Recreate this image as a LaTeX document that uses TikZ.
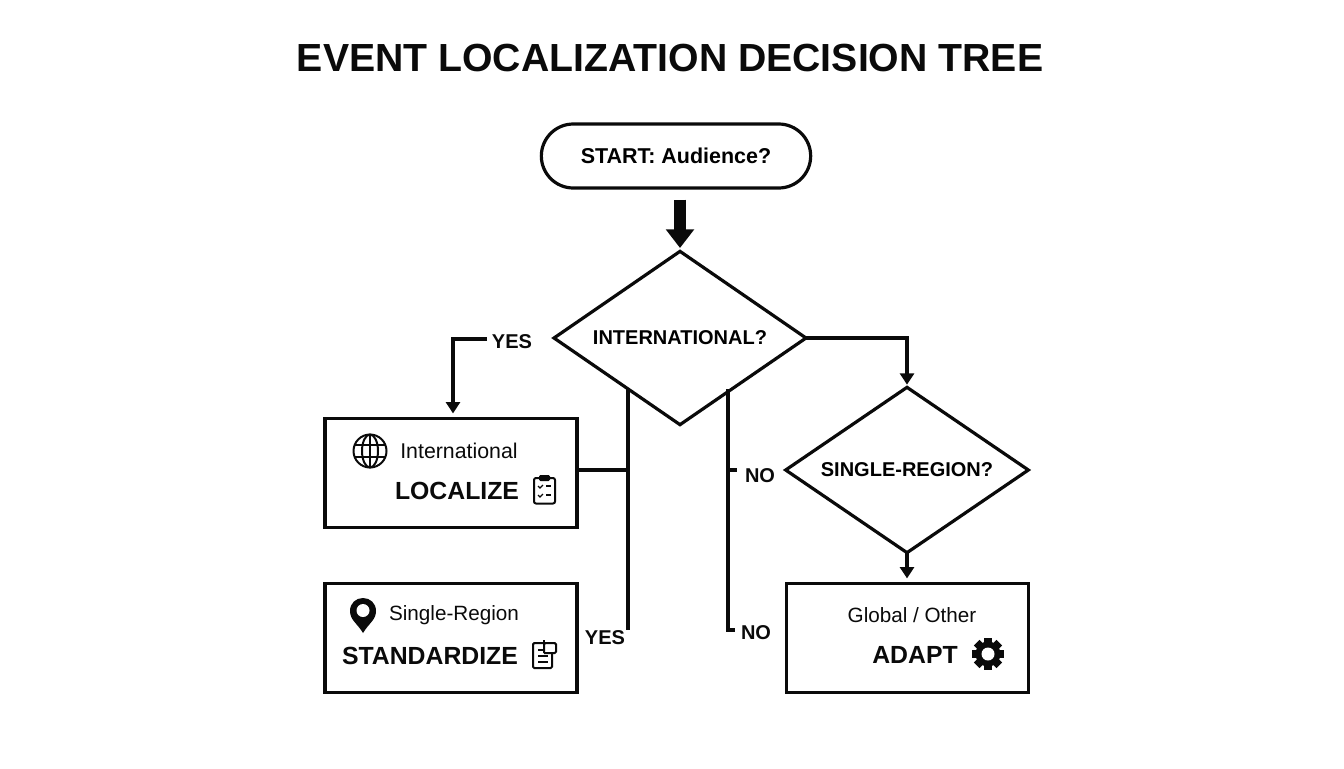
\documentclass[tikz,border=0pt]{standalone}
\usepackage{fontspec}
\setmainfont{Liberation Sans}
\usepackage{tikz}
\usetikzlibrary{shapes.geometric,arrows.meta}
\definecolor{ink}{HTML}{0A0A0A}
\tikzstyle{line} = [ink,line width=2.4pt]
\tikzstyle{arrow} = [line,-{Triangle[length=8.5pt,width=10.5pt]}]
\tikzstyle{bigarrow} = [ink,line width=9.5pt,-{Triangle[length=14pt,width=20.5pt,sep=0pt]}]
\tikzstyle{box} = [draw=ink,line width=2.4pt,rectangle,minimum width=189pt,minimum height=82pt,inner sep=0pt]
\tikzstyle{decision} = [draw=ink,line width=2.4pt,diamond,aspect=1.45,inner sep=0pt,outer sep=0pt,font=\fontsize{15}{18}\selectfont\bfseries]
\tikzstyle{small} = [ink,font=\fontsize{16}{19}\selectfont]
\tikzstyle{smaller} = [ink,font=\fontsize{15.5}{19}\selectfont]
\tikzstyle{big} = [ink,font=\fontsize{18.6}{22}\selectfont\bfseries]
\tikzstyle{answer} = [ink,font=\fontsize{15}{18}\selectfont\bfseries]
\tikzstyle{icon} = [ink,line width=1.5pt]

\begin{document}
\begin{tikzpicture}[x=0.75pt,y=-0.75pt]
        \useasboundingbox (0,0) rectangle (1344,768);
        \node[ink,font=\fontsize{29.4}{34}\selectfont\bfseries] at (670,58) (title) {EVENT LOCALIZATION DECISION TREE};

        \node[draw=ink,line width=2.4pt,rounded corners=24pt,minimum width=202pt,minimum height=48pt,inner sep=0pt,font=\fontsize{16.1}{20}\selectfont\bfseries] at (676,156) (start) {START: Audience?};
        \node[decision,minimum width=189pt,minimum height=130pt] at (680,338) (intl) {INTERNATIONAL?};
        \node[decision,minimum width=182pt,minimum height=124pt] at (907,470) (single) {SINGLE-REGION?};
        \node[box] at (451,473) (localize) {};
        \node[box] at (451,638) (standardize) {};
        \node[box,minimum width=182pt] at (907.5,638) (adapt) {};

        \node[small] at (459,451) (intltext) {International};
        \node[big] at (457,491) (localizetext) {LOCALIZE};
        \node[smaller] at (454,615) (singletext) {Single-Region};
        \node[big] at (430,656) (standardizetext) {STANDARDIZE};
        \node[smaller] at (912,615) (globaltext) {Global / Other};
        \node[big] at (915,655) (adapttext) {ADAPT};

        \node[answer] at (512,342) (yesa) {YES};
        \node[answer] at (605,638) (yesb) {YES};
        \node[answer] at (760,476) (noa) {NO};
        \node[answer] at (756,633) (nob) {NO};

        \coordinate (yesstart) at (487,339);
        \coordinate (yesend) at (628,630);
        \coordinate (tee) at (628,470);
        \coordinate (nocorner) at (728,630);
        \coordinate (nohook) at (735,630);
        \coordinate (notee) at (728,470);
        \coordinate (notick) at (737,470);

        \draw[bigarrow,shorten >=2.5pt] (start.south -| intl.north) ++(0,10) -- (intl.north);
        \draw[arrow,shorten >=2.5pt] (yesstart) -| (localize.north -| 453,339);
        \draw[arrow,shorten >=2pt] (intl.east) -| (single.north);
        \draw[arrow,shorten >=2.5pt] (single.south) -- (adapt.north -| single.south);
        \draw[line] (intl.225 -| yesend) -- (yesend);
        \draw[line] (tee) -- (tee -| localize.east);
        \draw[line,line join=miter] (intl.-45 -| nocorner) -- (nocorner) -- (nohook);
        \draw[line] (notee) -- (notick);

        \draw[icon] (370,451) circle[radius=16.5];
        \draw[icon] (370,451) ellipse[x radius=8,y radius=16.5];
        \draw[icon] (370,434.5) -- (370,467.5);
        \draw[icon] (354.5,445) -- (385.5,445);
        \draw[icon] (354.5,457) -- (385.5,457);

        \draw[icon,rounded corners=1.5pt] (534,478) rectangle (555,503.5);
        \fill[ink,rounded corners=1pt] (539,475) rectangle (550,481);
        \foreach \y in {486,495} {
            \draw[ink,line width=0.9pt] (538,\y) -- (540,\y+2) -- (543,\y-1);
            \draw[ink,line width=0.9pt] (546,\y) -- (551,\y);
        }

        \fill[ink] (363,633) .. controls (357,623) and (350,620) .. (350,611) .. controls (350,603) and (356,598) .. (363,598) .. controls (370,598) and (376,603) .. (376,611) .. controls (376,620) and (369,623) .. cycle;
        \fill[white] (363,610.5) circle[radius=6.5];

        \draw[icon,rounded corners=1pt] (544,643) -- (533,643) -- (533,668) -- (552,668) -- (552,653);
        \draw[icon,rounded corners=1pt] (544,653) -- (544,643) -- (556,643) -- (556,653) -- (544,653);
        \draw[icon] (544,640) -- (544,643);
        \draw[ink,line width=1pt] (538,650) -- (544,650);
        \draw[ink,line width=1pt] (538,656) -- (548,656);
        \draw[ink,line width=1pt] (538,662) -- (548,662);

        \foreach \a in {0,45,...,315} {
            \fill[ink,rotate around={\a:(988,654)}] (984,638) rectangle (992,648);
        }
        \fill[ink] (988,654) circle[radius=12.5];
        \fill[white] (988,654) circle[radius=6.5];
    \end{tikzpicture}
\end{document}
